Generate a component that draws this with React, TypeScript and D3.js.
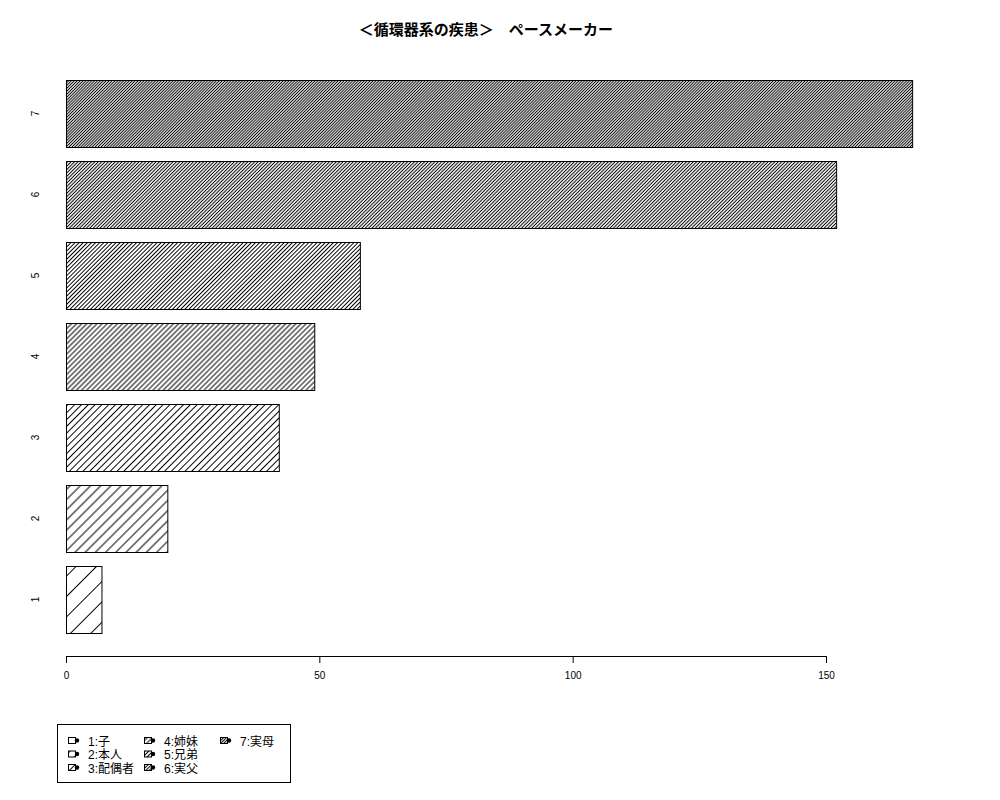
import * as d3 from 'd3';
import { useEffect, useRef } from 'react';

const categories = ['1', '2', '3', '4', '5', '6', '7'];
const values = [7, 20, 42, 49, 58, 152, 167];
const legendLabels = ['1:子', '2:本人', '3:配偶者', '4:姉妹', '5:兄弟', '6:実父', '7:実母'];
const xTicks = [0, 50, 100, 150];
const titleText = '＜循環器系の疾患＞　ペースメーカー';

// horizontal gap between hatch lines, one per bar
const hatchGap = [20.4, 10.2, 6.8, 5.1, 4.1, 3.4, 2.9];

export default function App() {
  const w = 1000;
  const h = 800;
  const svgRef = useRef<SVGSVGElement>(null);

  useEffect(() => {
    if (svgRef.current == null) {
      return;
    }
    const svg = d3.select(svgRef.current);
    svg.selectAll('*').remove();

    const font = '"Liberation Sans", Arial, "Noto Sans CJK JP", sans-serif';

    const defs = svg.append('defs');
    hatchGap.forEach((gap, i) => {
      const p = gap / Math.SQRT2;
      const pat = defs
        .append('pattern')
        .attr('id', `hatch${i}`)
        .attr('patternUnits', 'userSpaceOnUse')
        .attr('width', p)
        .attr('height', 10)
        .attr('patternTransform', 'rotate(45)');
      pat
        .append('line')
        .attr('x1', p / 2)
        .attr('y1', 0)
        .attr('x2', p / 2)
        .attr('y2', 10)
        .attr('stroke', '#000')
        .attr('stroke-width', 1);
    });

    const xScale = d3.scaleLinear().domain([0, 150]).range([66, 826]);
    const yScale = d3
      .scaleBand()
      .domain([...categories].reverse())
      .range([73, 640])
      .paddingInner(14 / 81)
      .paddingOuter(7 / 81);

    // title
    svg
      .append('text')
      .attr('x', 486)
      .attr('y', 35)
      .attr('text-anchor', 'middle')
      .style('font-family', '"Noto Sans CJK JP", sans-serif')
      .style('font-weight', 'bold')
      .style('font-size', '15px')
      .text(titleText);

    // bars
    categories.forEach((c, i) => {
      svg
        .append('rect')
        .attr('x', xScale(0) + 0.5)
        .attr('y', (yScale(c) as number) + 0.5)
        .attr('width', xScale(values[i]) - xScale(0))
        .attr('height', yScale.bandwidth())
        .attr('fill', `url(#hatch${i})`)
        .attr('stroke', '#000')
        .attr('stroke-width', 1);

      svg
        .append('text')
        .attr('transform', `translate(39, ${(yScale(c) as number) + yScale.bandwidth() / 2}) rotate(-90)`)
        .attr('text-anchor', 'middle')
        .style('font-family', font)
        .style('font-size', '10px')
        .text(c);
    });

    // x axis
    const xAxis = d3.axisBottom(xScale).tickValues(xTicks).tickSize(7).tickSizeOuter(0).tickPadding(9);
    const g = svg.append('g').attr('transform', 'translate(0, 656)').call(xAxis);
    g.selectAll('text').style('font-family', font).style('font-size', '10px').attr('fill', '#000');
    g.selectAll('line,path').attr('stroke', '#000');

    // legend
    const lg = svg.append('g');
    lg.append('rect')
      .attr('x', 57.5)
      .attr('y', 724.5)
      .attr('width', 233)
      .attr('height', 58)
      .attr('fill', 'none')
      .attr('stroke', '#000');

    const colX = [68, 144, 220];
    const rowY = [741, 754.5, 768];
    legendLabels.forEach((lab, i) => {
      const kx = colX[Math.floor(i / 3)];
      const ky = rowY[i % 3];
      lg.append('rect')
        .attr('x', kx + 0.5)
        .attr('y', ky - 3.5)
        .attr('width', 7)
        .attr('height', 6)
        .attr('fill', `url(#hatch${i})`)
        .attr('stroke', '#000')
        .attr('stroke-width', 1);
      lg.append('circle').attr('cx', kx + 9).attr('cy', ky - 0.5).attr('r', 2.2).attr('fill', '#000');
      lg.append('text')
        .attr('x', kx + 20)
        .attr('y', ky + 4.5)
        .style('font-family', font)
        .style('font-size', '12px')
        .text(lab);
    });
  }, []);

  return <svg ref={svgRef} width={w} height={h} style={{ position: 'absolute', left: 0, top: 0, background: '#fff' }}></svg>;
}
